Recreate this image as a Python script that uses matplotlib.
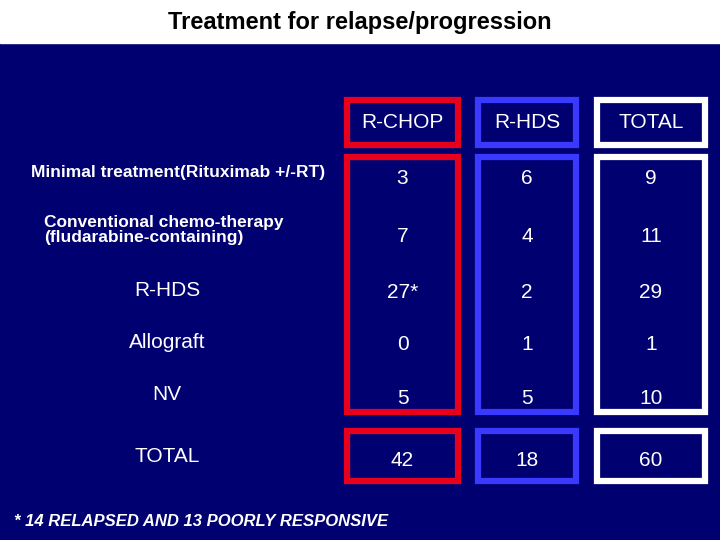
import matplotlib
matplotlib.use("Agg")
import matplotlib.pyplot as plt
from matplotlib.patches import Rectangle

plt.rcParams["font.family"] = ["Liberation Sans", "DejaVu Sans"]

columns = ["R-CHOP", "R-HDS", "TOTAL"]
rows = ["Minimal treatment(Rituximab +/-RT)",
        "Conventional chemo-therapy\n(fludarabine-containing)",
        "R-HDS", "Allograft", "NV", "TOTAL"]
r_chop = ["3", "7", "27*", "0", "5", "42"]
r_hds = ["6", "4", "2", "1", "5", "18"]
total = ["9", "11", "29", "1", "10", "60"]
footnote = "* 14 RELAPSED AND 13 POORLY RESPONSIVE"

navy = "#000070"
box_colors = ["#e8001c", "#3a3aff", "white"]
col_x = [(347, 458), (478, 576), (597, 705)]
row_y = [176, 233, 290, 342, 395, 457]

fig = plt.figure(figsize=(7.2, 5.4), dpi=100)
fig.patch.set_facecolor(navy)
ax = fig.add_axes([0, 0, 1, 1])
ax.set_xlim(0, 720)
ax.set_ylim(540, 0)
ax.axis("off")

ax.add_patch(Rectangle((0, 0), 720, 43, color="white"))
ax.text(360, 22, "Treatment for relapse/progression", ha="center", va="center",
        fontsize=17, fontweight="bold", color="black")

for (x0, x1), c in zip(col_x, box_colors):
    for y0, y1 in [(100, 145), (157, 412), (431, 481)]:
        ax.add_patch(Rectangle((x0, y0), x1 - x0, y1 - y0, fill=False,
                               edgecolor=c, linewidth=4.5))

for (x0, x1), name in zip(col_x, columns):
    ax.text((x0 + x1) / 2, 122, name, ha="center", va="center",
            fontsize=15, color="white")

ax.text(178, 173, rows[0], ha="center", va="center", fontsize=12.5,
        fontweight="bold", color="white")
ax.text(44, 230, rows[1], ha="left", va="center", fontsize=12.5,
        fontweight="bold", color="white", linespacing=1.0)
for lab, y in zip(rows[2:], row_y[2:]):
    ax.text(167, y, lab, ha="center", va="center", fontsize=15, color="white")

for (x0, x1), vals in zip(col_x, [r_chop, r_hds, total]):
    for v, y in zip(vals, row_y):
        ax.text((x0 + x1) / 2, y + 3, v, ha="center", va="center",
                fontsize=15, color="white")

ax.text(14, 521, footnote, ha="left", va="center", fontsize=12,
        fontstyle="italic", fontweight="bold", color="white")

fig.savefig("out.png", dpi=100, facecolor=navy)
